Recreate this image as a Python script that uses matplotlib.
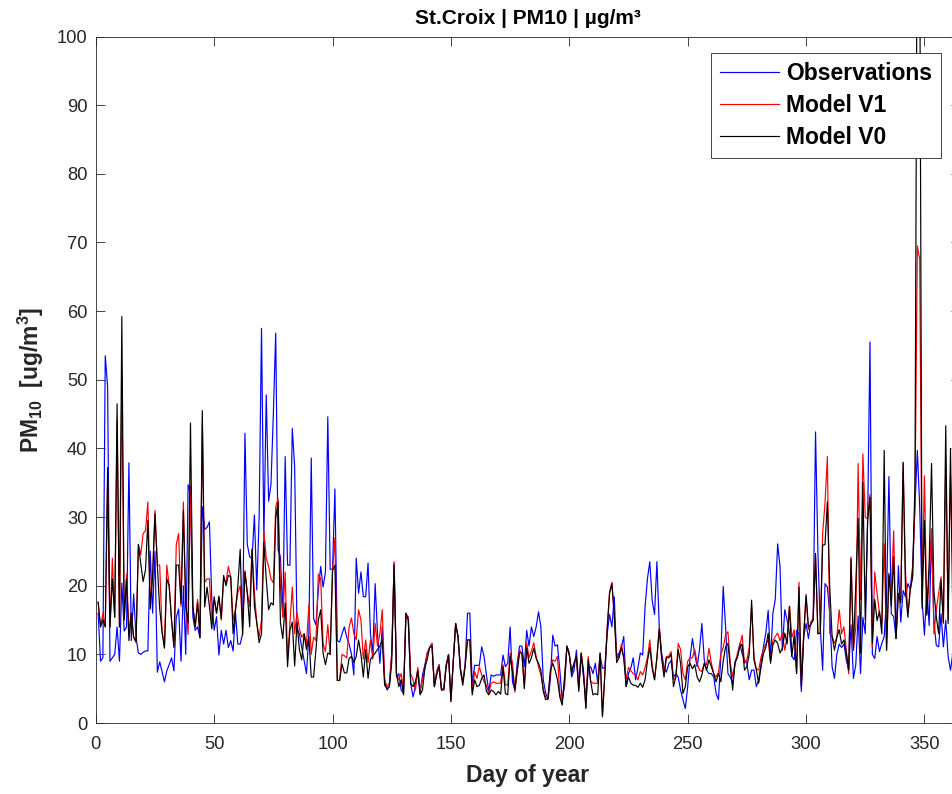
import matplotlib
matplotlib.use("Agg")
import matplotlib.pyplot as plt

plt.rcParams['font.family'] = ['Liberation Sans', 'DejaVu Sans']
plt.rcParams['mathtext.fontset'] = 'custom'
plt.rcParams['mathtext.rm'] = 'Liberation Sans:bold'
plt.rcParams['mathtext.bf'] = 'Liberation Sans:bold'
plt.rcParams['mathtext.default'] = 'bf'

# daily PM10 values, day 1 .. 365
obs = [16, 9, 9.5, 53.5, 49, 9, 9.5, 10, 14, 9,
       20.4, 13.4, 14, 37.9, 12, 18.8, 12.5, 10.2, 10, 10.3,
       10.5, 10.5, 25, 16, 25, 7.4, 8.9, 7.5, 6, 7.6,
       8.5, 9.5, 7.6, 15.4, 16.6, 9, 20, 10, 34.7, 33.5,
       15.5, 13.5, 14, 12.4, 31.5, 28.2, 28.5, 29.3, 18, 13.5,
       15.5, 9.9, 13.5, 11.5, 13.5, 11, 12, 10.5, 16, 11.5,
       11.5, 13, 42.2, 26, 24.2, 24, 30.3, 19.4, 30, 57.5,
       26.7, 47.8, 32.3, 34.8, 45, 56.8, 25.2, 24.2, 15.5, 38.8,
       23, 23, 42.9, 37.3, 13.7, 13, 11, 9.1, 7.2, 13,
       38.6, 15.2, 14.3, 19.4, 22.8, 19.8, 22, 44.6, 22.4, 22.4,
       34.1, 12, 11.8, 13, 14, 12.5, 11.5, 10, 7, 24,
       18.9, 22, 18.4, 18.4, 23.3, 13, 10.2, 20.3, 13, 8.7,
       14, 6.3, 4.8, 5.3, 10, 23.3, 6.7, 7.2, 4.8, 4.3,
       16, 15, 5.8, 3.8, 5.3, 7.6, 4.3, 7, 8.5, 10.2,
       11, 11.6, 5.3, 7.5, 8.5, 5, 5, 8.5, 10, 3.5,
       9, 14.5, 12.5, 8, 6, 8.5, 16, 16, 5.5, 8.4,
       8.4, 8.4, 11.1, 9.7, 7, 4.6, 7, 6.8, 7, 7,
       7, 9.9, 8.2, 8.7, 14, 6, 4.8, 8.7, 11.2, 11.2,
       8.2, 13.5, 11.2, 14, 12.6, 14, 16.2, 14, 6.3, 4.4,
       3.4, 6.3, 12.8, 11.2, 11.4, 7.7, 3.4, 5.3, 11.2, 10.2,
       6.7, 7.7, 10.6, 5.3, 9.9, 6.7, 3.8, 7.7, 8.2, 7.2,
       8.7, 5.8, 9.9, 8, 8, 13, 15.8, 14, 18.4, 9.3,
       10.2, 11, 12.6, 5.3, 7.2, 8, 9.5, 6.3, 8.1, 10.2,
       9.9, 16.9, 21, 23.5, 17.9, 15.8, 23.5, 14, 10.2, 8.1,
       7.4, 8.6, 9.1, 6.7, 7.2, 6.7, 4.8, 3.4, 2.1, 5.3,
       9.5, 12.3, 10, 8.2, 10.7, 14.5, 9.2, 7.7, 7.2, 7.2,
       6.7, 4.3, 3.4, 9.6, 19.9, 14, 7.2, 6.7, 5.8, 8.7,
       9.6, 11.6, 10.1, 9.2, 8.7, 6.3, 7.7, 7.7, 5.3, 6.3,
       8.7, 11.1, 13.1, 16.4, 9.2, 16, 18, 26.1, 22.8, 10.6,
       16.5, 15, 13.1, 9.7, 9.2, 13.5, 13, 4.6, 12.6, 14.5,
       12.3, 14.7, 15, 42.4, 25, 14, 7.7, 20.3, 19.8, 16,
       8.2, 6.5, 10, 11.5, 11, 11.5, 9.2, 7.7, 14.3, 6.5,
       8.5, 15.6, 7.2, 15.4, 13, 29.5, 55.5, 10, 9.4, 12.6,
       10.4, 11.6, 12.6, 18.4, 35.9, 15.9, 15.5, 12.3, 22.9, 14.7,
       19.3, 18.4, 20.3, 19.5, 22.8, 31.5, 39.7, 31.5, 18, 12.8,
       19.8, 14.2, 27.6, 14.9, 11.3, 11.1, 15.9, 11.1, 15, 9.7,
       7.7, 10.2, 10, 10, 10]

model_v1 = [17.6, 14, 16, 14, 35, 14, 24, 15.4, 44, 14,
            50.5, 15, 21.7, 13.5, 16, 12.5, 11.8, 26, 24.5, 27.6,
            28, 32.2, 18, 21.3, 31, 23, 23, 13.3, 11, 23,
            20, 15, 11.3, 26, 27.6, 17, 32.2, 17, 12.9, 34.5,
            17, 14, 18, 13, 44, 20.5, 21, 21, 15, 18,
            16, 18.5, 15, 21, 20.5, 22.8, 21.3, 15, 16.5, 19,
            20, 14, 22.2, 19, 17, 25.3, 19, 14.6, 12.5, 15,
            28, 24, 22.8, 21, 20.4, 31.5, 32.7, 19.8, 15.4, 22,
            9.2, 14.6, 19.8, 13, 16.1, 13.7, 12.5, 13, 11.5, 17.2,
            10, 12.5, 12, 21.7, 21, 11.6, 10.4, 14.3, 10, 22.2,
            27, 6.2, 6.2, 10, 9.8, 9.5, 14, 15.3, 13, 12.1,
            16.5, 15, 9.3, 12.1, 8.8, 12.1, 9.3, 14.5, 11.2, 13,
            16.5, 6.3, 5.3, 5.8, 10.2, 23.5, 7.2, 6.3, 7.2, 4.8,
            15.8, 15.5, 7.2, 6.3, 4.8, 8.1, 4.8, 6.3, 8, 10.2,
            11, 11.6, 5.3, 7.5, 8.5, 5, 5, 8.5, 10, 3.2,
            9, 14.5, 12.6, 8, 5.8, 8.5, 12.1, 12.1, 4.5, 7.5,
            6.5, 8.2, 7, 6, 5.5, 4.3, 5.8, 6, 5.8, 5.8,
            5.8, 8.5, 5.6, 5.5, 10.2, 8.7, 4.5, 7.8, 10.7, 10,
            5.3, 11.7, 9.5, 10.5, 11.7, 9.7, 8.2, 7, 5, 3.8,
            3.8, 7.2, 9.2, 9, 9.7, 4.3, 3, 6.3, 11.2, 9.9,
            7.7, 8.7, 9.5, 5, 10.2, 7.7, 2.3, 9.7, 6.1, 5.8,
            5.8, 5.8, 10.2, 1, 7, 14, 19, 20.5, 15.3, 10.2,
            9.5, 11.5, 9.5, 6.3, 8.1, 7.6, 7.2, 7, 6.3, 7.5,
            7, 8.1, 9.5, 12.1, 8.5, 6.3, 9.5, 14, 9.5, 7.2,
            9.7, 9.7, 10.4, 6.3, 6.7, 11.6, 10.7, 7.2, 6.3, 9,
            9.5, 9.5, 10.7, 8.7, 7.7, 7.5, 8.7, 8.5, 10.9, 8.7,
            7.2, 6.7, 7.4, 10, 11, 12.8, 13.3, 8.7, 6.7, 8.7,
            10.1, 11.3, 12.8, 8.7, 9.2, 11, 17, 9.6, 7.9, 7.7,
            9.6, 10.7, 11.5, 12.1, 9, 12, 12.6, 13.1, 12, 13,
            10.6, 12.5, 17, 12.5, 13.6, 7.2, 20.5, 5.8, 13, 18.4,
            13.6, 14.5, 15.4, 24.2, 13.1, 13, 27.6, 32, 38.8, 13,
            12.6, 11.6, 12.5, 16.5, 13, 14, 10.6, 7.2, 24.2, 10.6,
            14, 37.8, 18, 39.2, 30, 29.7, 33.3, 11.1, 22, 18.9,
            16, 14.5, 26.1, 10.6, 21.5, 18.9, 28, 12.3, 18.9, 18,
            37.8, 22, 16, 19.3, 21.3, 32, 69.5, 67.5, 18, 36,
            16, 21.3, 28.3, 13, 16.5, 18.9, 21.3, 14.5, 38, 15,
            36, 22, 30, 20, 18]

model_v0 = [17.6, 14, 15, 14, 37.2, 14, 21, 15.4, 46.5, 14,
            59.2, 15, 21, 12, 16, 12.5, 11.8, 26, 23.2, 20.6,
            22.3, 29.5, 16.6, 21.3, 30.5, 23, 16.6, 13.3, 10.9, 21,
            20, 15, 11, 23, 23, 17.4, 31, 17, 14.6, 43.7,
            17, 14, 17.5, 12.4, 45.5, 16.9, 19.8, 17, 13.7, 18.4,
            16, 18.4, 15.2, 21.5, 20, 21.5, 21.3, 13, 16.5, 20,
            25.3, 12.8, 22, 18.9, 14, 25.3, 17, 14.6, 11.7, 13,
            26.3, 21, 16.5, 17.5, 17.2, 29.8, 32.2, 14.6, 12.3, 17.5,
            8.2, 13.5, 14.7, 8.3, 14.6, 10.7, 9.2, 13, 10.7, 12.6,
            6.7, 6.7, 10.7, 15, 16.5, 10.2, 8.5, 10.2, 10, 22.2,
            23, 6.2, 6.2, 8.6, 7.3, 7.3, 9.4, 9.7, 8.8, 9.7,
            12.1, 10, 6.7, 10.7, 6.5, 9.3, 9.7, 10.2, 10.7, 11.2,
            12.1, 5.5, 5, 5.3, 8.8, 23, 7.2, 5.3, 6.3, 4.1,
            16, 15, 5.8, 5.3, 6, 7.6, 4.1, 4.8, 8, 9.3,
            11, 11.2, 5.3, 7, 8.2, 4.8, 4.8, 8.2, 9.9, 3.1,
            9, 14.5, 12.6, 7.7, 5.5, 8.2, 12.1, 12.1, 4.1, 6.3,
            5.3, 5.5, 6.5, 7, 4.6, 4.1, 4.8, 4.6, 4.1, 4.6,
            4.2, 8.2, 4.3, 4.1, 9.7, 7.5, 4.8, 7.5, 10.2, 10.2,
            5, 10.9, 8.7, 9.5, 10.9, 9.4, 8.7, 7.7, 4.6, 3.4,
            3.6, 7.7, 8.7, 7.7, 6.3, 3.8, 2.6, 6.7, 11.2, 9.9,
            7.2, 8.7, 9.7, 4.6, 10.2, 7.2, 2.1, 9.2, 6.1, 4.1,
            4.3, 4.1, 10.2, 0.9, 7, 13.5, 18.9, 20.3, 15.8, 8.8,
            9.5, 11, 9.5, 5.3, 6.7, 5.8, 5.5, 5.5, 5.2, 5.8,
            5.2, 6.3, 9, 11, 8, 6.3, 9.5, 13.7, 9.5, 6.7,
            9.5, 9.5, 10, 5.3, 6.7, 10.7, 8.7, 4.3, 5.3, 8.2,
            8.7, 7.9, 8.5, 6.7, 6, 7, 8.7, 7.7, 9.2, 8.2,
            7.2, 6, 7.2, 6, 9, 11.1, 11.6, 8.2, 4.8, 8.9,
            9.6, 11, 11.5, 7.7, 8.2, 10, 17.9, 9.2, 7.7, 5.8,
            8.2, 10.1, 11, 13.1, 8.7, 11.4, 12.1, 11.6, 10.2, 10.9,
            13.1, 11.5, 17, 9.7, 12.8, 7.2, 19.8, 5.3, 12.5, 18.7,
            14, 14.3, 15, 24.7, 13, 13.1, 25.9, 26, 32.2, 19.8,
            12.6, 10.6, 12.5, 13.6, 11.5, 12.1, 10.2, 7.7, 23.9, 10.6,
            20, 29.8, 10.2, 35.1, 15, 29.5, 32.9, 11.6, 18, 14.9,
            16.3, 13, 39.7, 10.6, 21.8, 17, 24.2, 12.3, 18.9, 17.5,
            38, 19.3, 15.4, 19.5, 21.3, 35, 125, 115, 16.7, 29.5,
            15.7, 23.5, 37.8, 19.2, 15.5, 13, 20.8, 14.7, 43.3, 14.5,
            40, 15, 30, 20, 18]

axcol = (0.15, 0.15, 0.15)

fig = plt.figure(figsize=(9.53, 7.94), dpi=100)
ax = fig.add_axes([0.1005, 0.0894, 0.9068, 0.8646])

ax.plot(range(1, len(obs) + 1), obs, color='blue', lw=0.85, label='Observations')
ax.plot(range(1, len(model_v1) + 1), model_v1, color='red', lw=0.85, label='Model V1')
ax.plot(range(1, len(model_v0) + 1), model_v0, color='black', lw=0.85, label='Model V0')

ax.set_xlim(0, 365)
ax.set_ylim(0, 100)
ax.set_xticks(range(0, 351, 50))
ax.set_yticks(range(0, 101, 10))
ax.tick_params(direction='in', length=6.2, width=0.6, top=True, right=True,
               labelsize=13.2, colors=axcol)
ax.tick_params(axis='x', pad=9)
ax.tick_params(axis='y', pad=6)
for s in ax.spines.values():
    s.set_color(axcol)
    s.set_linewidth(0.6)

ax.set_xlabel('Day of year', fontsize=16.5, fontweight='bold', color=axcol, labelpad=8)
ax.set_ylabel('PM$_{10}$  [ug/m$^{3}$]', fontsize=16.5, fontweight='bold', color=axcol, labelpad=8)
ax.set_title('St.Croix | PM10 | µg/m³', fontsize=15, fontweight='bold', pad=9)

leg = ax.legend(loc='upper right', bbox_to_anchor=(0.978, 0.976), borderaxespad=0,
                prop={'weight': 'bold', 'size': 16.5}, fancybox=False,
                handlelength=2.55, handletextpad=0.3, labelspacing=0.38,
                borderpad=0.4, framealpha=1)
leg.get_frame().set_edgecolor(axcol)
leg.get_frame().set_linewidth(0.6)

fig.savefig('out.png', dpi=100)
